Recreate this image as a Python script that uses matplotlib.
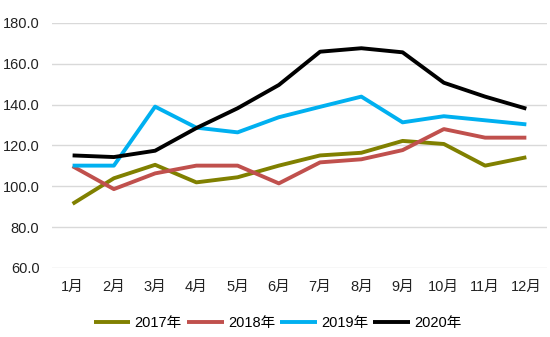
import matplotlib.pyplot as plt
import numpy as np

plt.rcParams['font.family'] = ['Liberation Sans', 'Noto Sans CJK SC', 'DejaVu Sans']

months = ['1月', '2月', '3月', '4月', '5月', '6月', '7月', '8月', '9月', '10月', '11月', '12月']
y2017 = [91.4, 103.9, 110.5, 101.9, 104.4, 110.1, 115.1, 116.4, 122.2, 120.7, 110.1, 114.2]
y2018 = [109.8, 98.6, 106.3, 110.1, 110.1, 101.4, 111.7, 113.2, 117.7, 128.0, 123.8, 123.8]
y2019 = [110.1, 110.1, 139.0, 128.7, 126.4, 133.8, 138.9, 143.9, 131.3, 134.3, 132.3, 130.3]
y2020 = [115.1, 114.3, 117.4, 128.5, 138.2, 149.6, 165.9, 167.6, 165.6, 150.7, 143.9, 138.0]

series = [
    ('2017年', y2017, '#808000'),
    ('2018年', y2018, '#C0504D'),
    ('2019年', y2019, '#00B0F0'),
    ('2020年', y2020, '#000000'),
]

fig = plt.figure(figsize=(5.5, 3.37), dpi=100)
ax = fig.add_axes([0.0945, 0.205, 0.9, 0.727])

x = np.arange(len(months))
for label, vals, col in series:
    ax.plot(x, vals, color=col, lw=2.8, label=label, solid_capstyle='butt')

ax.set_xlim(-0.5, len(months) - 0.5)
ax.set_ylim(60, 180)
ax.set_yticks(np.arange(60, 181, 20))
ax.set_yticklabels([f'{v:.1f}' for v in np.arange(60, 181, 20)])
ax.set_xticks(x)
ax.set_xticklabels(months)
ax.tick_params(length=0, labelsize=10.5, colors='#222222')
ax.tick_params(axis='y', pad=9)
ax.tick_params(axis='x', pad=9)
ax.grid(axis='y', color='#D9D9D9', lw=1)
ax.set_axisbelow(True)
for s in ax.spines.values():
    s.set_visible(False)

fig.legend(loc='center', bbox_to_anchor=(0.505, 0.042), ncol=4, frameon=False,
           fontsize=10.5, handlelength=2.5, handletextpad=0.3, columnspacing=0.35,
           borderpad=0)

fig.savefig('out.png', dpi=100)
